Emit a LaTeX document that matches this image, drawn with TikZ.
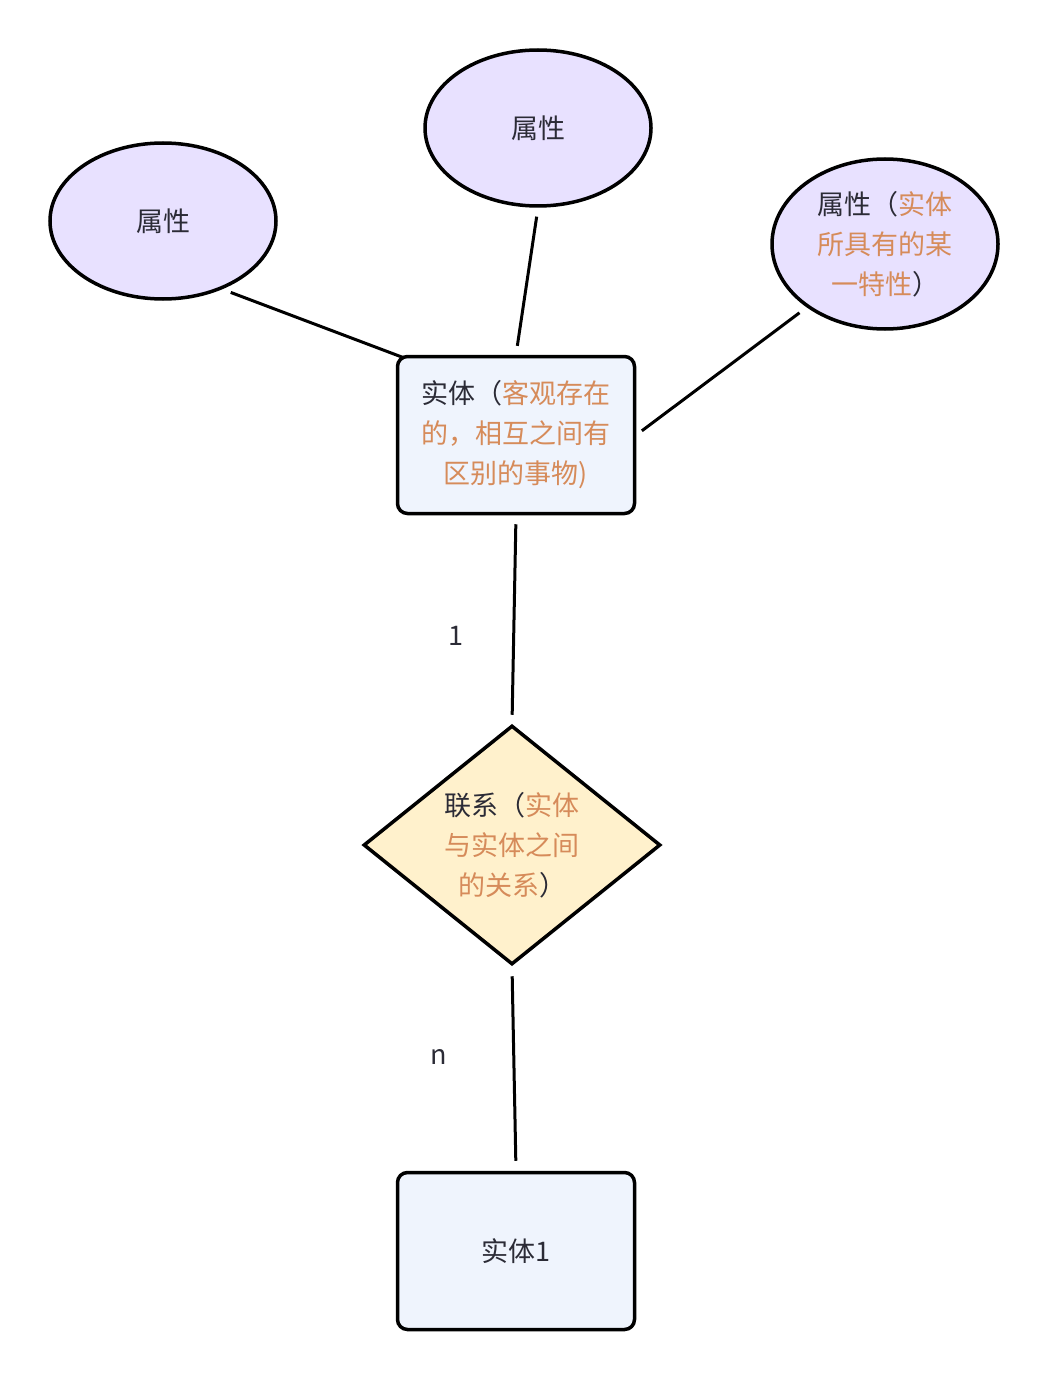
\documentclass[tikz,border=0pt]{standalone}
\usepackage{fontspec}
\setmainfont{Noto Sans CJK SC}
\usetikzlibrary{shapes.geometric}
\definecolor{ink}{HTML}{2B2B36}
\definecolor{note}{HTML}{D68B5A}
\definecolor{attrfill}{HTML}{E8E1FF}
\definecolor{entfill}{HTML}{EFF4FD}
\definecolor{relfill}{HTML}{FFF1CC}
\newcommand{\hl}[1]{\textcolor{note}{#1}}

\begin{document}
\begin{tikzpicture}[x=1pt,y=-1pt]
    \tikzstyle{every node}=[font=\fontsize{27}{40}\selectfont,text=ink]
    \tikzstyle{attr}=[ellipse,draw=black,line width=3.5pt,fill=attrfill,minimum width=226pt,minimum height=156pt,inner sep=0pt,align=center]
    \tikzstyle{ent}=[rectangle,rounded corners=10pt,draw=black,line width=3.5pt,fill=entfill,minimum width=237pt,minimum height=157pt,inner sep=0pt,align=center]
    \tikzstyle{rel}=[diamond,aspect=1.24,draw=black,line width=3.5pt,fill=relfill,minimum width=297pt,minimum height=239pt,inner sep=0pt,align=center]
    \tikzstyle{link}=[draw=black,line width=3pt,shorten >=9pt,shorten <=9pt]
    \useasboundingbox (0,0) rectangle (1050,1380);
    \node[attr] (a1) at (163,221) {属性};
    \node[attr] (a2) at (538,128) {属性};
    \node[attr,minimum height=170pt] (a3) at (885,244) {属性（\hl{实体}\\\hl{所具有的某}\\\hl{一特性}）};
    \node[ent] (e) at (516,435) {实体（\hl{客观存在}\\\hl{的，相互之间有}\\\hl{区别的事物)}};
    \node[rel] (r) at (512,845) {联系（\hl{实体}\\\hl{与实体之间}\\\hl{的关系}）};
    \node[ent] (e1) at (516,1251) {实体1};
    \node (l1) at (456,636) {1};
    \node (ln) at (439,1057) {n};
    \draw[link,shorten >=0pt] (a1.-49) -- ([xshift=8pt,yshift=-3pt]e.north west);
    \draw[link] (a2.south) -- (e.north);
    \draw[link,shorten >=7pt] (a3.219) -- (e.east);
    \draw[link] (e.south) -- (r.north);
    \draw[link,shorten <=10pt,shorten >=10pt] (r.south) -- (e1.north);
\end{tikzpicture}
\end{document}
